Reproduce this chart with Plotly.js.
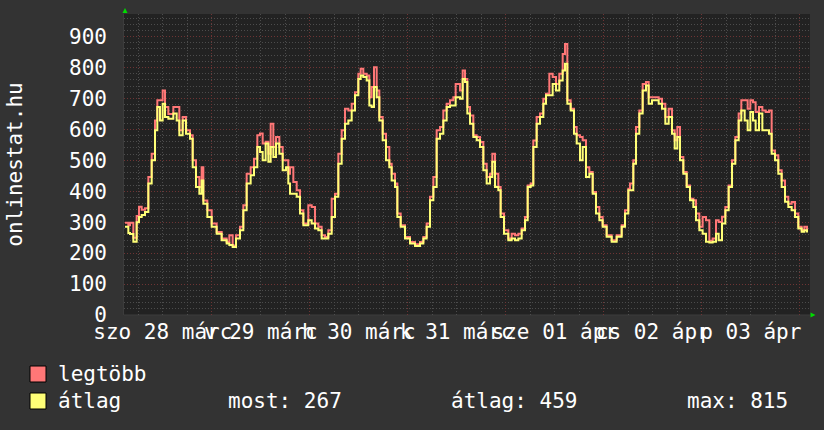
<!DOCTYPE html>
<html><head><meta charset="utf-8">
<script src="https://cdn.plot.ly/plotly-3.0.1.min.js"></script>
<style>html,body{margin:0;padding:0;background:#333333;}</style>
</head><body>
<div id="chart" style="width:824px;height:430px"></div>
<script>
// ---- data (hours since left edge of the graph, values per series) ----
const hours = [0.24,1.06,1.47,2.29,3.10,3.67,4.33,5.14,5.96,6.78,7.59,8.16,8.82,9.47,10.04,10.86,12.08,12.90,13.55,14.37,15.18,16.16,16.82,17.63,18.45,19.02,19.43,20.41,21.47,22.69,23.92,25.14,25.80,26.61,27.43,28.41,29.22,30.04,31.02,31.84,32.65,33.31,33.96,34.69,35.35,35.92,36.57,37.22,38.04,38.86,39.67,40.24,
40.65,41.47,42.29,43.10,43.92,45.14,45.96,46.78,47.59,48.41,49.22,50.04,50.86,51.67,52.49,53.31,54.12,54.94,55.76,56.57,57.39,57.96,58.61,59.43,60.08,60.65,61.22,61.88,62.53,63.35,64.16,64.98,65.55,66.37,66.94,67.76,68.82,70.04,71.27,72.49,73.31,74.12,74.94,75.76,76.57,77.39,78.20,79.02,79.84,80.65,81.22,
82.29,82.94,83.51,84.08,84.73,85.55,86.37,87.18,88.00,88.82,89.63,90.20,90.86,91.67,92.24,93.06,94.12,94.94,95.76,96.57,97.39,98.20,98.86,99.59,100.24,101.06,101.88,102.69,103.35,104.16,104.98,105.80,106.61,107.43,108.00,108.57,109.39,110.20,110.86,111.67,112.33,113.14,113.96,114.78,115.59,116.41,117.22,118.20,119.43,120.65,121.88,122.69,123.51,
123.92,124.73,125.39,126.20,127.02,127.84,128.49,129.31,130.12,130.94,131.76,132.57,133.39,134.20,134.86,135.51,136.16,136.98,137.80,138.61,139.43,140.08,140.90,141.71,142.53,143.35,144.16,144.98,145.63,146.45,147.27,148.08,148.90,149.71,150.53,151.18,152.00,152.73,153.39,154.04,154.69,155.51,156.33,157.14,157.96,158.61,159.43,160.24,161.06,161.88,162.69,163.51,164.33,165.14,165.96,166.61,167.27];

const avgValues = [285,265,262,237,300,317,323,333,425,500,597,672,629,683,640,634,651,629,581,629,586,570,478,414,392,435,360,317,285,263,242,231,226,220,247,274,339,425,452,478,543,527,500,554,495,543,511,554,521,468,478,425,
392,392,382,328,290,306,296,280,274,247,247,263,317,382,489,570,618,629,661,710,763,774,769,758,677,672,737,704,629,565,500,478,435,414,317,285,247,231,223,231,247,285,371,414,570,586,629,672,677,677,704,
699,763,753,651,618,575,565,543,468,425,446,495,414,403,317,263,242,247,242,247,274,306,414,419,543,618,640,683,710,710,747,726,758,790,812,683,661,586,554,500,543,446,457,392,328,306,285,253,237,253,285,328,403,
403,489,586,651,726,742,683,694,694,683,667,618,640,586,538,575,500,457,414,371,349,306,274,263,237,234,237,263,242,296,339,414,489,565,629,661,629,597,656,629,597,651,597,597,586,521,500,457,414,366,349,339,317,280,269,274,267];

const maxValues = [298,290,298,250,320,350,340,345,446,521,629,694,694,726,672,650,672,672,597,640,597,581,500,446,414,478,370,339,296,268,247,236,258,225,258,285,355,457,478,505,581,587,554,560,521,618,543,575,543,500,500,457,
478,430,403,339,296,355,349,296,285,258,252,274,376,392,521,597,667,661,683,720,780,796,780,774,704,737,801,726,640,586,543,489,457,425,328,290,252,236,229,236,252,296,382,446,597,608,661,683,694,704,747,
726,790,763,672,645,581,575,559,489,446,457,521,457,414,328,274,247,263,258,263,280,317,419,425,564,640,651,699,715,780,769,747,780,844,876,694,667,608,581,575,565,478,462,398,349,317,290,258,242,258,290,339,408,
425,500,608,661,747,753,704,704,704,699,683,640,667,597,565,608,511,462,419,376,371,328,285,317,306,240,247,306,301,318,349,419,500,575,651,694,694,667,694,688,656,672,661,656,661,532,516,468,435,382,360,365,328,285,274,285,269];

const dayTickHours = [9.5, 33.5, 57.5, 81.5, 105.5, 129.5, 153.5];
const dayTickLabels = ["szo 28 márc", "v 29 márc", "h 30 márc", "k 31 márc", "sze 01 ápr", "cs 02 ápr", "p 03 ápr"];
const seriesNames = ["legtöbb", "átlag"];
const statLabels = ["most: 267", "átlag: 459", "max: 815"];
const yTitle = "onlinestat.hu";

// ---- layout helpers (pixel -> paper) ----
const L = 124, R = 810, T = 14, B = 315;
const px = x => (x - L) / (R - L);
const py = y => (B - y) / (B - T);
const mono = "DejaVu Sans Mono, monospace";
const FS = 21;
const majorGrid = "#6e3434";
const minorGrid = "#4c4c4c";
const gridDash = "1px,2px";

// max series on the base x axis (drawn first), average on the overlaying axis (drawn on top)
const traces = [
  {x: hours, y: maxValues, name: seriesNames[0], type: "scatter", mode: "lines",
   line: {color: "#ff7777", width: 2, shape: "hv"}, xaxis: "x", yaxis: "y", hoverinfo: "skip"},
  {x: hours, y: avgValues, name: seriesNames[1], type: "scatter", mode: "lines",
   line: {color: "#ffff77", width: 2, shape: "hv"}, xaxis: "x2", yaxis: "y", hoverinfo: "skip"}
];

const shapes = [
  {type: "line", xref: "paper", yref: "paper", x0: px(123.5), x1: px(123.5), y0: 0, y1: 1,
   line: {color: "#3c3c3c", width: 1}, layer: "below"},
  {type: "line", xref: "paper", yref: "paper", x0: 0, x1: 1, y0: py(315), y1: py(315),
   line: {color: "#3c3c3c", width: 1}, layer: "below"},
  {type: "path", xref: "paper", yref: "paper", fillcolor: "#00dd00", line: {width: 0},
   path: `M ${px(122.5)} ${py(13)} L ${px(127.5)} ${py(13)} L ${px(125)} ${py(8)} Z`},
  {type: "path", xref: "paper", yref: "paper", fillcolor: "#00dd00", line: {width: 0},
   path: `M ${px(810.5)} ${py(312.5)} L ${px(810.5)} ${py(317.5)} L ${px(815.5)} ${py(315)} Z`},
  {type: "rect", xref: "paper", yref: "paper", x0: px(30), x1: px(46), y0: py(366), y1: py(382),
   fillcolor: "#ff7777", line: {color: "#000000", width: 1}},
  {type: "rect", xref: "paper", yref: "paper", x0: px(30), x1: px(46), y0: py(393), y1: py(409),
   fillcolor: "#ffff77", line: {color: "#000000", width: 1}}
];

const ann = (text, x, y) => ({text, x: px(x), y: py(y), xref: "paper", yref: "paper",
  xanchor: "left", yanchor: "middle", showarrow: false, borderpad: 0,
  font: {family: mono, size: FS, color: "#ffffff"}});

const annotations = [
  ann(seriesNames[0], 57, 374),
  ann(seriesNames[1], 57, 401),
  ann(statLabels[0], 227, 401),
  ann(statLabels[1], 450, 401),
  ann(statLabels[2], 686, 401)
];

const layout = {
  width: 824, height: 430,
  margin: {l: L, r: 824 - R, t: T, b: 430 - B, pad: 0},
  paper_bgcolor: "#333333", plot_bgcolor: "#222222",
  showlegend: false,
  font: {family: mono, size: FS, color: "#ffffff"},
  xaxis: {range: [0, 168], tickmode: "linear", tick0: 21.5, dtick: 24,
    showticklabels: false, showgrid: true, gridcolor: majorGrid, griddash: gridDash, gridwidth: 1,
    zeroline: false, showline: false, ticks: "", fixedrange: true,
    minor: {tick0: 3.5, dtick: 6, showgrid: true, gridcolor: minorGrid, griddash: gridDash, gridwidth: 1}},
  xaxis2: {range: [0, 168], overlaying: "x", side: "bottom", anchor: "y",
    tickmode: "array", tickvals: dayTickHours, ticktext: dayTickLabels, tickangle: 0,
    showgrid: false, zeroline: false, showline: false, ticks: "", ticklabelstandoff: 2,
    tickfont: {family: mono, size: FS, color: "#ffffff"}, fixedrange: true},
  yaxis: {range: [0, 973], tickmode: "linear", tick0: 0, dtick: 100,
    showgrid: true, gridcolor: majorGrid, griddash: gridDash, gridwidth: 1,
    zeroline: false, showline: false, ticks: "", ticklabelstandoff: 16,
    tickfont: {family: mono, size: FS, color: "#ffffff"}, fixedrange: true,
    minor: {dtick: 20, showgrid: true, gridcolor: minorGrid, griddash: gridDash, gridwidth: 1},
    title: {text: yTitle, standoff: 40, font: {family: mono, size: FS, color: "#ffffff"}}},
  shapes, annotations
};

Plotly.newPlot("chart", traces, layout, {displayModeBar: false, staticPlot: true});
</script>
</body></html>
